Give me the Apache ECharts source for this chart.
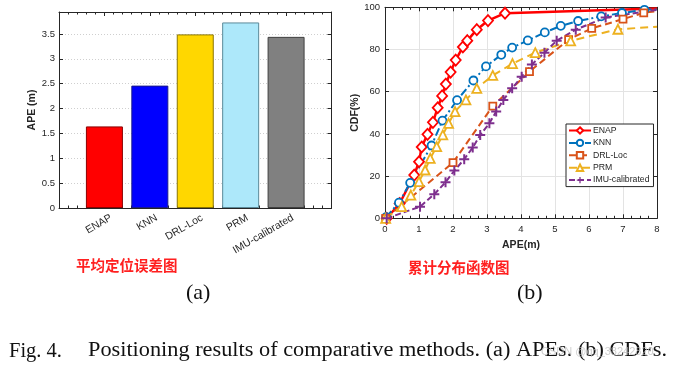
<!DOCTYPE html>
<html>
<head>
<meta charset="utf-8">
<script src="https://cdn.jsdelivr.net/npm/echarts@6/dist/echarts.min.js"></script>
<style>html,body{margin:0;padding:0;background:#fff}#c{width:675px;height:370px}</style>
</head>
<body>
<div id="c"></div>
<script>
// ---- data ----
const barCats = ['ENAP', 'KNN', 'DRL-Loc', 'PRM', 'IMU-calibrated'];
const apeValues = [1.64, 2.46, 3.49, 3.73, 3.44];
const barYTicks = [0, 0.5, 1, 1.5, 2, 2.5, 3, 3.5];

const enapX = [0.05, 0.43, 0.86, 1.0, 1.08, 1.25, 1.41, 1.55, 1.68, 1.79, 1.93, 2.08, 2.29, 2.42, 2.7, 3.03, 3.53, 8];
const enapY = [0, 7, 20.5, 26.8, 33.8, 39.8, 45.5, 52.4, 58, 63.6, 69.3, 75, 81.2, 84.2, 89.4, 93.7, 97.2, 99.4];
const knnX = [0.03, 0.41, 0.74, 1.37, 1.69, 2.12, 2.6, 2.97, 3.42, 3.74, 4.2, 4.7, 5.17, 5.68, 6.36, 6.97, 7.63, 8];
const knnY = [0.5, 7.4, 16.8, 34.5, 46.3, 56, 65.3, 72, 77.5, 80.9, 84.3, 88.1, 91.2, 93.5, 95.7, 97.3, 98.8, 99.0];
const drlX = [0.02, 2.0, 3.17, 4.25, 5.4, 6.08, 7.0, 7.61, 8];
const drlY = [0, 26.4, 53.2, 69.5, 84.7, 90, 94.4, 97.4, 98.2];
const prmX = [0.02, 0.49, 0.76, 1.0, 1.18, 1.33, 1.52, 1.7, 1.87, 2.06, 2.38, 2.7, 3.17, 3.75, 4.42, 5.46, 6.85, 8];
const prmY = [0, 5.5, 11, 17.4, 22.9, 28.4, 34, 39.5, 45, 50.6, 56.1, 61.6, 67.7, 73.3, 78.5, 84.1, 89.6, 90.8];
const imuX = [0.05, 1.03, 1.45, 1.78, 2.04, 2.33, 2.58, 2.8, 3.07, 3.27, 3.48, 3.74, 4.02, 4.32, 4.69, 5.05, 5.61, 6.49, 8];
const imuY = [0, 5.5, 11.4, 17.1, 22.6, 28, 33.5, 39.5, 45, 50.6, 56.1, 61.6, 67.1, 72.9, 78.5, 84.2, 89.4, 95.2, 98.8];
const cdfXTicks = [0, 1, 2, 3, 4, 5, 6, 7, 8];
const cdfYTicks = [0, 20, 40, 60, 80, 100];

// ---- styles ----
const barFill = ['#FF0000', '#0000FF', '#FFD700', '#ADE8FA', '#808080'];
const barEdge = ['#8B0000', '#1a1a8b', '#8B7500', '#5B8A99', '#404040'];
const axisCol = '#262626';
const tickFont = {fontFamily: 'Liberation Sans, Arial', fontSize: 9.5, color: axisCol};
const nameFont = {fontFamily: 'Liberation Sans, Arial', fontSize: 10.5, fontWeight: 'bold', color: axisCol};
const labelShift = 0.15; // shifts rotated category labels slightly right of their ticks

function pts(xs, ys) {
  return xs.map((x, i) => {
    const d = {value: [x, ys[i]]};
    if (i === xs.length - 1) d.symbol = 'none';
    return d;
  });
}
const isTick = (v, arr) => arr.some(t => Math.abs(t - v) < 1e-6);

const frame = {show: true, onZero: false, lineStyle: {color: axisCol, width: 1}};
const tick = {inside: true, length: 4, lineStyle: {color: axisCol}};
const chart = echarts.init(document.getElementById('c'), null, {renderer: 'canvas'});

const plusPath = 'path://M4,0H6V4H10V6H6V10H4V6H0V4H4Z';

function lineSeries(name, xs, ys, color, symbol, size, dash, width, filled) {
  return {
    name, type: 'line', xAxisIndex: 2, yAxisIndex: 2,
    data: pts(xs, ys), symbol, symbolSize: size, showAllSymbol: true,
    lineStyle: {color, width, type: dash},
    itemStyle: filled ? {color, borderWidth: 0} : {color: '#ffffff', borderColor: color, borderWidth: 1.8},
    emphasis: {disabled: true}, animation: false, z: 3
  };
}

chart.setOption({
  animation: false,
  grid: [
    {left: 59, top: 12, width: 272.5, height: 196},
    {left: 385, top: 7.3, width: 272, height: 211}
  ],
  xAxis: [
    {gridIndex: 0, type: 'value', min: 0, max: 6, interval: 1, position: 'bottom',
     axisLine: frame, axisTick: tick,
     minorTick: {show: true, splitNumber: 5, length: 2.5, lineStyle: {color: axisCol}},
     splitLine: {show: false}, axisLabel: {show: false}},
    {gridIndex: 0, type: 'value', min: 0, max: 6, interval: 1, position: 'top',
     axisLine: frame, axisTick: tick,
     minorTick: {show: true, splitNumber: 5, length: 2.5, lineStyle: {color: axisCol}},
     splitLine: {show: false}, axisLabel: {show: false}},
    {gridIndex: 1, type: 'value', min: 0, max: 8, interval: 1, position: 'bottom',
     name: 'APE(m)', nameLocation: 'middle', nameGap: 20, nameTextStyle: nameFont,
     axisLine: frame, axisTick: tick,
     minorTick: {show: true, splitNumber: 4, length: 2.5, lineStyle: {color: axisCol}},
     splitLine: {show: true, lineStyle: {color: '#e3e3e3', width: 1}},
     axisLabel: Object.assign({}, tickFont, {margin: 6, formatter: v => isTick(v, cdfXTicks) ? String(v) : ''})},
    {gridIndex: 1, type: 'value', min: 0, max: 8, interval: 1, position: 'top',
     axisLine: frame, axisTick: tick,
     minorTick: {show: true, splitNumber: 4, length: 2.5, lineStyle: {color: axisCol}},
     splitLine: {show: false}, axisLabel: {show: false}},
    // label-only axis for the rotated bar category names
    {gridIndex: 0, type: 'value', min: -labelShift, max: 6 - labelShift, position: 'bottom', splitNumber: 6,
     axisLine: {show: false}, axisTick: {show: false}, splitLine: {show: false},
     axisLabel: Object.assign({}, tickFont, {fontSize: 10.5, rotate: 30, margin: 9, showMinLabel: false, showMaxLabel: false,
       formatter: v => (Math.abs(v - Math.round(v)) < 1e-6 && barCats[Math.round(v) - 1]) || ''})}
  ],
  yAxis: [
    {gridIndex: 0, type: 'value', min: 0, max: 3.94, interval: 0.5, position: 'left',
     name: 'APE (m)', nameLocation: 'middle', nameGap: 21, nameTextStyle: nameFont,
     axisLine: frame, axisTick: tick,
     splitLine: {show: true, lineStyle: {color: '#cfcfcf', type: [1, 2], width: 1}},
     axisLabel: Object.assign({}, tickFont, {margin: 4, formatter: v => isTick(v, barYTicks) ? String(v) : ''})},
    {gridIndex: 0, type: 'value', min: 0, max: 3.94, interval: 0.5, position: 'right',
     axisLine: frame, axisTick: tick,
     splitLine: {show: false}, axisLabel: {show: false}},
    {gridIndex: 1, type: 'value', min: 0, max: 100, interval: 20, position: 'left',
     name: 'CDF(%)', nameLocation: 'middle', nameGap: 22, nameTextStyle: nameFont,
     axisLine: frame, axisTick: tick,
     splitLine: {show: true, lineStyle: {color: '#e3e3e3', width: 1}},
     axisLabel: Object.assign({}, tickFont, {margin: 5, formatter: v => isTick(v, cdfYTicks) ? String(v) : ''})},
    {gridIndex: 1, type: 'value', min: 0, max: 100, interval: 20, position: 'right',
     axisLine: frame, axisTick: tick,
     splitLine: {show: false}, axisLabel: {show: false}}
  ],
  legend: {
    data: ['ENAP', 'KNN', 'DRL-Loc', 'PRM', 'IMU-calibrated'],
    orient: 'vertical', left: 566, top: 124, itemWidth: 22, itemHeight: 8, itemGap: 3.4,
    padding: [2, 4, 2, 2], borderColor: axisCol, borderWidth: 1, backgroundColor: '#fff',
    textStyle: {fontFamily: 'Liberation Sans, Arial', fontSize: 8.7, color: axisCol, padding: [0, 0, 0, -3], lineHeight: 8},
    selectedMode: false
  },
  series: [
    {type: 'bar', xAxisIndex: 0, yAxisIndex: 0, barWidth: 37, animation: false,
     data: apeValues.map((v, i) => ({value: [i + 1, v], itemStyle: {color: barFill[i], borderColor: barEdge[i], borderWidth: 1}})),
     emphasis: {disabled: true}},
    lineSeries('ENAP', enapX, enapY, '#FF0000', 'diamond', [10, 11], 'solid', 2.5, false),
    lineSeries('KNN', knnX, knnY, '#0072BD', 'circle', 8, [8, 3, 2, 3], 2, false),
    lineSeries('DRL-Loc', drlX, drlY, '#D95319', 'rect', 7, [7, 4], 2, false),
    lineSeries('PRM', prmX, prmY, '#EDB120', 'triangle', 9, [8, 5], 2, false),
    lineSeries('IMU-calibrated', imuX, imuY, '#7E2F8E', plusPath, 10, [6, 3], 2, true)
  ],
  graphic: [
    {type: 'text', left: 76, top: 258, style: {text: '平均定位误差图', font: 'bold 14.5px "Noto Sans CJK SC"', fill: '#FF2020'}},
    {type: 'text', left: 408, top: 260, style: {text: '累计分布函数图', font: 'bold 14.5px "Noto Sans CJK SC"', fill: '#FF2020'}},
    {type: 'text', left: 186, top: 282, style: {text: '(a)', font: '22px "Liberation Serif"', fill: '#111'}},
    {type: 'text', left: 517, top: 282, style: {text: '(b)', font: '22px "Liberation Serif"', fill: '#111'}},
    {type: 'text', x: 9, y: 341, style: {text: 'Fig. 4.', font: '20.5px "Liberation Serif"', fill: '#111'}},
    {type: 'text', x: 88, y: 341, scaleX: 1.115, style: {text: 'Positioning results of comparative methods. (a) APEs. (b) CDFs.', font: '20px "Liberation Serif"', fill: '#111'}},
    {type: 'text', left: 541, top: 346, z: 100, style: {text: 'CSDN @qq_38242820', font: '11px "Liberation Sans"', fill: 'rgba(190,190,190,0.75)'}}
  ]
});
</script>
</body>
</html>
